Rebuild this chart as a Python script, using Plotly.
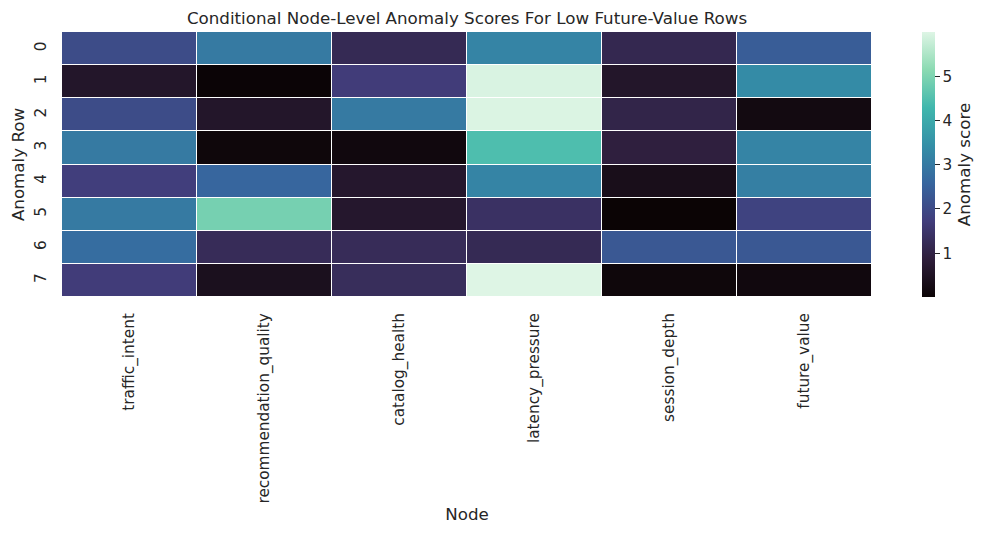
import plotly.graph_objects as go

nodes = ["traffic_intent", "recommendation_quality", "catalog_health",
         "latency_pressure", "session_depth", "future_value"]
rows = ["0", "1", "2", "3", "4", "5", "6", "7"]

row0 = [2.05, 3.0, 1.2, 3.2, 1.15, 2.4]
row1 = [0.6, 0.02, 1.7, 5.95, 0.6, 3.35]
row2 = [2.05, 0.6, 3.0, 5.97, 1.05, 0.2]
row3 = [3.0, 0.1, 0.15, 4.45, 0.9, 3.2]
row4 = [1.75, 2.6, 0.65, 3.2, 0.35, 3.1]
row5 = [3.0, 4.9, 0.65, 1.4, 0.01, 1.85]
row6 = [2.75, 1.25, 1.25, 1.2, 2.3, 2.3]
row7 = [1.7, 0.4, 1.3, 6.0, 0.1, 0.15]
scores = [row0, row1, row2, row3, row4, row5, row6, row7]

mako = [
    [0.0, "#0B0405"],
    [1/7, "#2E1E3B"],
    [2/7, "#413D7B"],
    [3/7, "#37659E"],
    [4/7, "#348FA7"],
    [5/7, "#40B7AD"],
    [6/7, "#8BDAB2"],
    [1.0, "#DEF5E5"],
]

font_color = "#262626"
tick_px = 15.3
label_px = 16.7

# page offset of the figure inside the browser (default body margin)
off = 8
left, right, top, bottom = 62 - off, 872 - off, 32 - off, 297 - off
W, H = 991, 534

fig = go.Figure(go.Heatmap(
    z=scores, x=nodes, y=rows,
    colorscale=mako, xgap=1, ygap=1,
    colorbar=dict(
        title=dict(text="Anomaly score", side="right",
                   font=dict(size=label_px, color=font_color)),
        thickness=13, len=1.0, lenmode="fraction", y=0.5, yanchor="middle",
        ypad=0, xpad=0,
        x=(922 - 62) / (right - left), xanchor="left", outlinewidth=0,
        tickvals=[1, 2, 3, 4, 5], ticks="outside", ticklen=5,
        tickcolor=font_color, tickfont=dict(size=tick_px, color=font_color),
    ),
))

fig.update_layout(
    width=W, height=H,
    margin=dict(l=left, r=W - right, t=top, b=H - bottom, autoexpand=False),
    paper_bgcolor="white", plot_bgcolor="white",
    font=dict(family="DejaVu Sans", color=font_color, size=tick_px),
    title=dict(text="Conditional Node-Level Anomaly Scores For Low Future-Value Rows",
               x=0.5, xref="paper", xanchor="center", y=1 - (18 - off) / H,
               yanchor="middle",
               font=dict(size=label_px, color=font_color)),
)
fig.update_xaxes(title=dict(text="Node", font=dict(size=label_px), standoff=5),
                 tickangle=-90, showgrid=False, zeroline=False,
                 ticks="outside", ticklen=9, tickcolor="rgba(0,0,0,0)",
                 tickfont=dict(size=tick_px), automargin=False)
fig.update_yaxes(title=dict(text="Anomaly Row", font=dict(size=label_px), standoff=13),
                 autorange="reversed", tickangle=-90, showgrid=False,
                 zeroline=False, ticks="outside", ticklen=9,
                 tickcolor="rgba(0,0,0,0)",
                 tickfont=dict(size=tick_px), automargin=False)

fig.write_html("out.html")
